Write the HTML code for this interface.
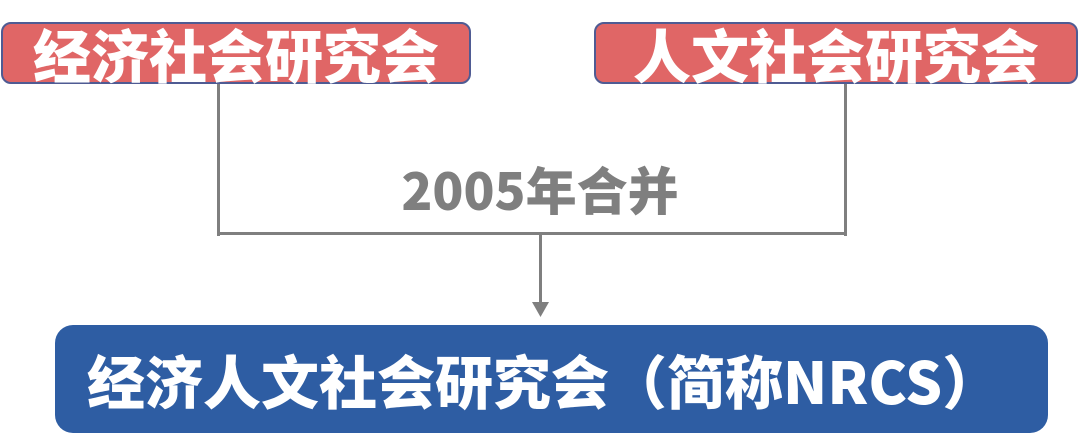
<!DOCTYPE html>
<html><head><meta charset="utf-8"><style>
body{margin:0;width:1080px;height:444px;background:#fff;position:relative;overflow:hidden;font-family:"Liberation Sans","Noto Sans CJK SC",sans-serif}
.box{position:absolute;box-sizing:border-box;display:flex;align-items:center;justify-content:center;color:#fff;font-weight:900;font-family:"Noto Sans CJK SC",sans-serif;white-space:nowrap}
.red{background:#e06666;border:2px solid #4f5b93;border-radius:10px;font-size:58px;top:22px;height:62px}
.blue{background:#2e5da3;border-radius:18px;left:55px;top:325px;width:993px;height:108px;font-size:58px;justify-content:flex-start;padding-left:32px}
.l{position:absolute;background:#7f7f7f}
.lab{position:absolute;left:340px;width:400px;top:158px;text-align:center;font-family:"Noto Sans CJK SC",sans-serif;font-weight:900;font-size:51px;color:#7f7f7f;line-height:60px}
</style></head><body>
<div class="box red" style="left:1px;width:470px;line-height:62px">经济社会研究会</div>
<div class="box red" style="left:594px;width:484px;line-height:62px">人文社会研究会</div>
<div class="l" style="left:217px;top:84px;width:3px;height:152px"></div>
<div class="l" style="left:844px;top:84px;width:3px;height:152px"></div>
<div class="l" style="left:217px;top:232px;width:630px;height:3px"></div>
<div class="l" style="left:539px;top:232px;width:3px;height:74px"></div>
<svg style="position:absolute;left:532px;top:302px" width="17" height="16"><polygon points="0,0 17,0 8.5,15" fill="#7f7f7f"/></svg>
<div class="lab">2005年合并</div>
<div class="box blue">经济人文社会研究会（简称NRCS）</div>
</body></html>
